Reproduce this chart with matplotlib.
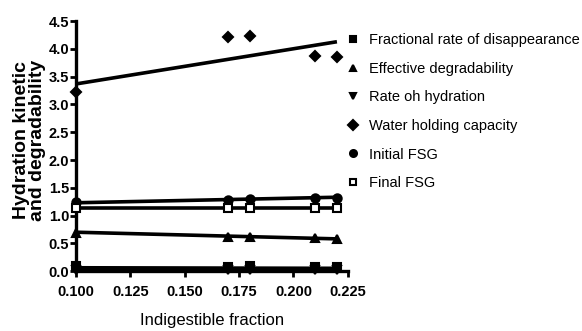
import matplotlib
matplotlib.use('Agg')
import matplotlib.pyplot as plt
import numpy as np

# indigestible fraction of the samples
fraction = [0.10, 0.17, 0.18, 0.21, 0.22]

frac_rate = [0.09, 0.08, 0.09, 0.08, 0.08]
eff_degr = [0.68, 0.61, 0.62, 0.60, 0.58]
rate_hydr = [0.02, 0.02, 0.02, 0.02, 0.02]
water_cap = [3.22, 4.21, 4.24, 3.88, 3.85]
init_fsg = [1.25, 1.28, 1.30, 1.32, 1.32]
final_fsg = [1.13, 1.14, 1.14, 1.14, 1.14]

# regression line values at x = 0.10 and x = 0.22
fit_start = [0.06, 0.70, 0.02, 3.37, 1.23, 1.13]
fit_end = [0.05, 0.58, 0.02, 4.13, 1.33, 1.13]

names = ["Fractional rate of disappearance", "Effective degradability",
         "Rate oh hydration", "Water holding capacity", "Initial FSG", "Final FSG"]
series = [frac_rate, eff_degr, rate_hydr, water_cap, init_fsg, final_fsg]
markers = ['s', '^', 'v', 'D', 'o', 's']
msizes = [6, 6, 6, 5, 6, 6]
faces = ['black', 'black', 'black', 'black', 'black', 'white']

xticks = [0.100, 0.125, 0.150, 0.175, 0.200, 0.225]
yticks = [0.0, 0.5, 1.0, 1.5, 2.0, 2.5, 3.0, 3.5, 4.0, 4.5]

plt.rcParams['font.family'] = ['Liberation Sans', 'DejaVu Sans']

fig = plt.figure(figsize=(5.82, 3.31), dpi=100)
ax = fig.add_axes([0.1306, 0.181, 0.467, 0.755])

handles = []
for i in range(len(series)):
    ax.plot([fraction[0], fraction[-1]], [fit_start[i], fit_end[i]], color='black',
            lw=2.6, clip_on=False, zorder=2, solid_capstyle='butt')
    h, = ax.plot(fraction, series[i], linestyle='none', marker=markers[i],
                 ms=msizes[i], mfc=faces[i], mec='black', mew=1.5,
                 clip_on=False, zorder=3, label=names[i])
    handles.append(h)

ax.set_xlim(0.100, 0.225)
ax.set_ylim(0.0, 4.5)
ax.set_xticks(xticks)
ax.set_xticklabels(["%.3f" % v for v in xticks])
ax.set_yticks(yticks)
ax.set_yticklabels(["%.1f" % v for v in yticks])
for s in ['top', 'right']:
    ax.spines[s].set_visible(False)
for s in ['left', 'bottom']:
    ax.spines[s].set_linewidth(2.4)
ax.tick_params(direction='out', length=4, width=2, labelsize=10.5)
ax.tick_params(axis='x', pad=6)
ax.tick_params(axis='y', pad=1)
for t in ax.get_xticklabels() + ax.get_yticklabels():
    t.set_fontweight('bold')

ax.set_xlabel("Indigestible fraction", fontsize=12, labelpad=10)
ax.set_ylabel("Hydration kinetic\nand degradability", fontsize=14,
              fontweight='bold', linespacing=0.9)
ax.yaxis.set_label_coords(-0.11, 0.524)

leg = ax.legend(handles=handles, loc='upper left', bbox_to_anchor=(0.976, 0.975),
                frameon=False, fontsize=10.5, handlelength=0.8, handletextpad=0.7,
                labelspacing=1.0, borderaxespad=0)
for lh in leg.legend_handles:
    lh.set_markersize(5)

fig.savefig("out.png", dpi=100)
